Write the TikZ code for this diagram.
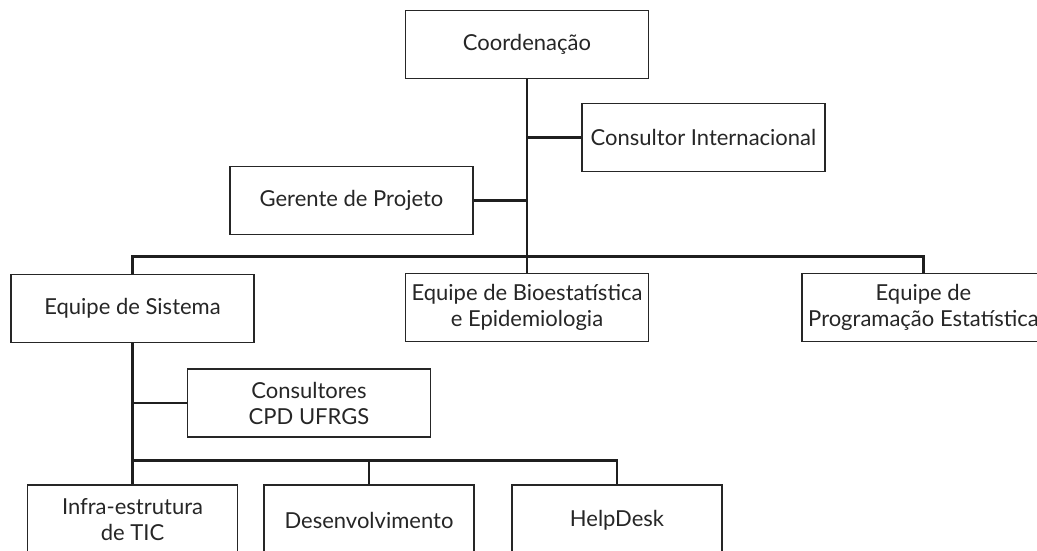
\documentclass[tikz,border=0pt]{standalone}
\usepackage{fontspec}
\setmainfont{Lato}
\begin{document}
\begin{tikzpicture}[x=1pt,y=-1pt,
  box/.style={draw=black!85, line width=1.3pt, fill=white, text=black!85, align=center,
    inner sep=2pt, font=\fontsize{22}{26}\selectfont, minimum width=243pt, minimum height=68pt},
  lowbox/.style={box, minimum width=210pt, minimum height=70pt},
  conn/.style={draw=black!88, line width=2.8pt}]
\useasboundingbox (0,0) rectangle (1037,550);
\clip (0,0) rectangle (1037,550);
\node[box] (coord) at (527,44.5) {Coordenação};
\node[box] (cons) at (703.5,137.5) {Consultor Internacional};
\node[box] (ger) at (351.5,200.5) {Gerente de Projeto};
\node[box] (sis) at (132.5,308.5) {Equipe de Sistema};
\node[box] (bio) at (527,307.5) {Equipe de Bioestatística\\e Epidemiologia};
\node[box] (prog) at (923.5,307.5) {Equipe de\\Programação Estatística};
\node[box] (cpd) at (309,403) {Consultores\\CPD UFRGS};
\node[lowbox] (infra) at (132.5,520) {Infra-estrutura\\de TIC};
\node[lowbox] (dev) at (369,520) {Desenvolvimento};
\node[lowbox] (help) at (617,520) {HelpDesk};
\coordinate (bar) at (527,256.5);
\coordinate (bar2) at (369,460.5);
\draw[conn] (coord.south) -- (bio.north);
\draw[conn] (cons.west) -- (cons.west -| coord.south);
\draw[conn] (ger.east) -- (ger.east -| coord.south);
\draw[conn] (sis.north) |- (bar) -| (prog.north);
\draw[conn] (sis.south) -- (infra.north);
\draw[conn] (cpd.west) -- (cpd.west -| sis.south);
\draw[conn] (sis.south |- bar2) -| (help.north);
\draw[conn] (dev.north) -- (dev.north |- bar2);
\end{tikzpicture}
\end{document}
